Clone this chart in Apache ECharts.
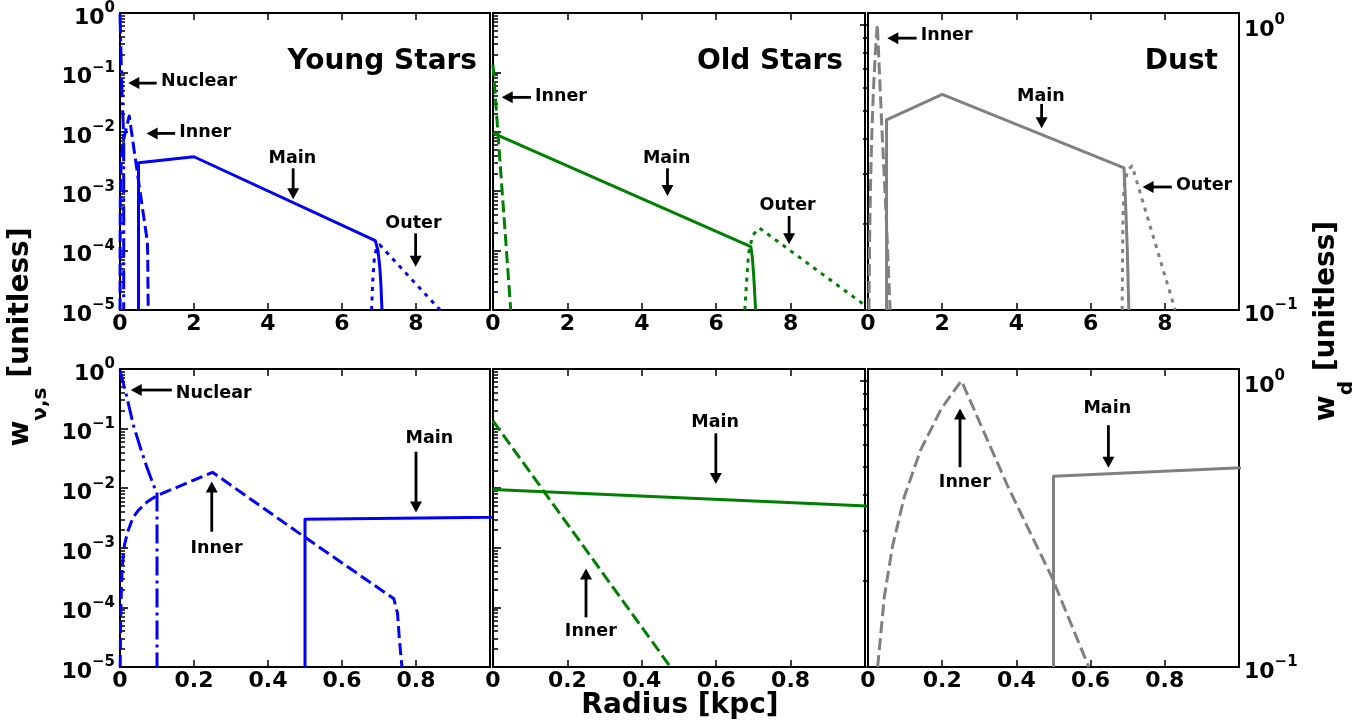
<!DOCTYPE html>
<html><head><meta charset="utf-8">
<script src="https://cdn.jsdelivr.net/npm/echarts@6/dist/echarts.min.js"></script>
<style>html,body{margin:0;padding:0;background:#fff}#c{width:1368px;height:727px}</style>
</head><body><div id="c"></div>
<script>
// ---------------- DATA (radius in kpc, weights unitless) ----------------
// Young stars
const youngNuclearR = [0, 0.0018, 0.018, 0.036, 0.054, 0.072, 0.092, 0.1, 0.1];
const youngNuclearW = [0.95, 0.85, 0.35, 0.115, 0.05, 0.023, 0.0107, 0.0085, 1e-5];
const youngInnerR = [0.0005, 0.002, 0.0045, 0.007, 0.012, 0.02, 0.035, 0.05, 0.075, 0.1, 0.25, 0.5, 0.74, 0.75, 0.755, 0.762];
const youngInnerW = [1e-5, 8e-5, 2.9e-4, 5.5e-4, 1.1e-3, 1.8e-3, 3.2e-3, 4.3e-3, 6e-3, 7.5e-3, 1.85e-2, 1.5e-3, 1.4e-4, 8e-5, 3e-5, 1e-5];
const youngMainR = [0.5, 0.5, 2.0, 6.9, 6.97, 7.02, 7.05, 7.08];
const youngMainW = [1e-5, 3.0e-3, 3.8e-3, 1.47e-4, 1.02e-4, 5.4e-5, 2.8e-5, 1e-5];
const youngOuterR = [6.8, 6.83, 6.87, 6.93, 7.02, 8.65];
const youngOuterW = [1e-5, 3e-5, 7e-5, 1.1e-4, 1.25e-4, 1e-5];
// Old stars
const oldInnerR = [0, 0.477];
const oldInnerW = [0.135, 1e-5];
const oldMainR = [0, 6.93, 6.97, 7.01, 7.06];
const oldMainW = [9.5e-3, 1.17e-4, 7.9e-5, 3.6e-5, 1e-5];
const oldOuterR = [6.77, 6.82, 6.87, 6.98, 7.16, 10];
const oldOuterW = [1e-5, 3.2e-5, 9e-5, 1.8e-4, 2.4e-4, 1.2e-5];
// Dust
const dustInnerR = [0.026, 0.044, 0.066, 0.098, 0.142, 0.196, 0.223, 0.252, 0.376, 0.497, 0.595];
const dustInnerW = [0.1, 0.176, 0.264, 0.394, 0.574, 0.792, 0.89, 1.0, 0.43, 0.204, 0.1];
const dustMainR = [0.5, 0.5, 2.0, 6.9, 6.94, 6.99, 7.03];
const dustMainW = [0.1, 0.464, 0.57, 0.315, 0.243, 0.162, 0.1];
const dustOuterR = [6.85, 6.87, 6.9, 7.0, 7.12, 8.28];
const dustOuterW = [0.1, 0.2, 0.27, 0.31, 0.32, 0.1];

// tick values
const wsMajorTicks = [1e-5, 1e-4, 1e-3, 1e-2, 1e-1, 1];
const wsMinorTicks = [2e-5,3e-5,4e-5,5e-5,6e-5,7e-5,8e-5,9e-5, 2e-4,3e-4,4e-4,5e-4,6e-4,7e-4,8e-4,9e-4,
  2e-3,3e-3,4e-3,5e-3,6e-3,7e-3,8e-3,9e-3, 2e-2,3e-2,4e-2,5e-2,6e-2,7e-2,8e-2,9e-2, 0.2,0.3,0.4,0.5,0.6,0.7,0.8,0.9];
const wdMajorTicks = [0.1, 1];
const wdMinorTicks = [0.2,0.3,0.4,0.5,0.6,0.7,0.8,0.9];
const panelTitles = ['Young Stars', 'Old Stars', 'Dust'];

// annotations: [grid, text, textX, textY, align, tailX, tailY, tipX, tipY] (data coords)
const annotations = [
  [0, 'Nuclear', 1.11, 0.07, 'left', 0.99, 0.066, 0.224, 0.066],
  [0, 'Inner', 1.60, 0.0097, 'left', 1.49, 0.0094, 0.72, 0.0094],
  [0, 'Main', 4.66, 3.58e-3, 'center', 4.68, 2.43e-3, 4.68, 7.3e-4],
  [0, 'Outer', 7.93, 2.88e-4, 'center', 7.99, 1.95e-4, 7.99, 5.37e-5],
  [1, 'Inner', 1.13, 0.039, 'left', 1.02, 0.038, 0.234, 0.038],
  [1, 'Main', 4.67, 3.58e-3, 'center', 4.69, 2.43e-3, 4.69, 8.3e-4],
  [1, 'Outer', 7.92, 5.7e-4, 'center', 7.96, 3.83e-4, 7.96, 1.28e-4],
  [2, 'Inner', 1.42, 0.915, 'left', 1.31, 0.898, 0.52, 0.898],
  [2, 'Main', 4.66, 0.56, 'center', 4.68, 0.528, 4.68, 0.434],
  [2, 'Outer', 8.30, 0.2735, 'left', 8.19, 0.27, 7.40, 0.27],
  [3, 'Nuclear', 0.151, 0.39, 'left', 0.140, 0.444, 0.029, 0.444],
  [3, 'Inner', 0.261, 9.8e-4, 'center', 0.248, 1.86e-3, 0.248, 1.29e-2],
  [3, 'Main', 0.836, 0.0687, 'center', 0.80, 0.041, 0.80, 3.9e-3],
  [4, 'Main', 0.597, 0.126, 'center', 0.599, 0.0834, 0.599, 0.0118],
  [4, 'Inner', 0.263, 3.9e-5, 'center', 0.25, 6.8e-5, 0.25, 4.5e-4],
  [5, 'Inner', 0.261, 0.441, 'center', 0.248, 0.499, 0.248, 0.80],
  [5, 'Main', 0.645, 0.80, 'center', 0.648, 0.70, 0.648, 0.497]
];

// ---------------- STYLE / LAYOUT ----------------
const FONT = '"DejaVu Sans", sans-serif';
const colX = [[120, 490], [493, 865], [868, 1239]];
const rowY = [[13, 310], [369, 667]];
const colColors = ['#0000ff', '#008000', '#808080'];
const dash = { solid: 'solid', dashed: [12, 5], dotted: [4, 5.5], dashdot: [19, 5, 3, 5] };
const components = [
  [[youngNuclearR, youngNuclearW, 'dashdot'], [youngInnerR, youngInnerW, 'dashed'], [youngMainR, youngMainW, 'solid'], [youngOuterR, youngOuterW, 'dotted']],
  [[oldInnerR, oldInnerW, 'dashed'], [oldMainR, oldMainW, 'solid'], [oldOuterR, oldOuterW, 'dotted']],
  [[dustInnerR, dustInnerW, 'dashed'], [dustMainR, dustMainW, 'solid'], [dustOuterR, dustOuterW, 'dotted']]
];

function powLabel(v) {
  const e = Math.round(Math.log10(v));
  return '{b|10}{s|' + (e < 0 ? '\u2212' + (-e) : '' + e) + '}';
}
const powRich = {
  b: { fontFamily: FONT, fontWeight: 'bold', fontSize: 22, lineHeight: 28, verticalAlign: 'bottom', color: '#000' },
  s: { fontFamily: FONT, fontWeight: 'bold', fontSize: 15, lineHeight: 14, verticalAlign: 'top', color: '#000' }
};

// grids 0..5 : main panels (data + bottom x axis + major y ticks)
// grids 6..11: same rectangles, only for top x ticks and minor y ticks
const grids = [], xAxes = [], yAxes = [], series = [];
for (let k = 0; k < 2; k++) {
  for (let r = 0; r < 2; r++) {
    for (let c = 0; c < 3; c++) {
      grids.push({
        left: colX[c][0], top: rowY[r][0],
        width: colX[c][1] - colX[c][0], height: rowY[r][1] - rowY[r][0],
        show: k === 0, borderColor: '#000', borderWidth: 2, backgroundColor: 'transparent'
      });
    }
  }
}
for (let r = 0; r < 2; r++) {
  for (let c = 0; c < 3; c++) {
    const g = r * 3 + c, gB = 6 + g;
    const xmax = r === 0 ? 10 : 1, xint = r === 0 ? 2 : 0.2;
    const xbase = {
      type: 'value', min: 0, max: xmax, interval: xint,
      axisLine: { show: false }, splitLine: { show: false },
      axisTick: { inside: true, length: 7, lineStyle: { color: '#000', width: 1.5 } }
    };
    xAxes.push(Object.assign({}, xbase, {
      gridIndex: g, position: 'bottom',
      axisLabel: { show: true, showMaxLabel: false, color: '#000', fontFamily: FONT, fontWeight: 'bold', fontSize: 22, margin: 3 }
    }));
    xAxes.push(Object.assign({}, xbase, { gridIndex: gB, position: 'top', axisLabel: { show: false } }));

    const isDust = c === 2;
    const ymin = isDust ? 0.1 : 1e-5, ymax = isDust ? 1.1 : 1;
    const major = isDust ? wdMajorTicks : wsMajorTicks;
    const minor = isDust ? wdMinorTicks : wsMinorTicks;
    const pos = isDust ? 'right' : 'left';
    yAxes.push({
      type: 'log', logBase: 10, gridIndex: g, position: pos, min: ymin, max: ymax,
      axisLine: { show: false }, splitLine: { show: false },
      axisTick: { inside: true, length: 8, customValues: major, lineStyle: { color: '#000', width: 1.6 } },
      axisLabel: { show: c !== 1, customValues: major, formatter: powLabel, rich: powRich, margin: 5, padding: [4, 0, 0, 0] }
    });
    yAxes.push({
      type: 'log', logBase: 10, gridIndex: gB, position: pos, min: ymin, max: ymax,
      axisLine: { show: false }, splitLine: { show: false },
      axisTick: { inside: true, length: 5, customValues: minor, lineStyle: { color: '#000', width: 1.5 } },
      axisLabel: { show: false }
    });

    components[c].forEach(function (comp) {
      series.push({
        type: 'line', xAxisIndex: 2 * g, yAxisIndex: 2 * g,
        data: comp[0].map(function (x, i) { return [x, comp[1][i]]; }),
        showSymbol: false, symbol: 'none', clip: true, silent: true,
        lineStyle: { color: colColors[c], width: 3, type: dash[comp[2]], cap: 'butt', join: 'round' },
        z: 3
      });
    });
  }
}

const chart = echarts.init(document.getElementById('c'), null, { renderer: 'canvas' });
chart.setOption({
  backgroundColor: '#fff', animation: false,
  grid: grids, xAxis: xAxes, yAxis: yAxes, series: series
});

// ---------------- ANNOTATIONS / TEXT ----------------
const gfx = [];
annotations.forEach(function (a) {
  const g = a[0];
  const finder = { xAxisIndex: 2 * g, yAxisIndex: 2 * g };
  const tp = chart.convertToPixel(finder, [a[2], a[3]]);
  const p0 = chart.convertToPixel(finder, [a[5], a[6]]);
  const p1 = chart.convertToPixel(finder, [a[7], a[8]]);
  gfx.push({ type: 'text', x: tp[0], y: tp[1], z: 20,
    style: { text: a[1], fill: '#000', font: 'bold 17.5px ' + FONT, align: a[4], verticalAlign: 'middle' } });
  const dx = p1[0] - p0[0], dy = p1[1] - p0[1], L = Math.hypot(dx, dy);
  const ux = dx / L, uy = dy / L, hl = 11, hw = 6;
  const bx = p1[0] - ux * hl, by = p1[1] - uy * hl;
  gfx.push({ type: 'line', z: 20, shape: { x1: p0[0], y1: p0[1], x2: bx + ux, y2: by + uy }, style: { stroke: '#000', lineWidth: 2.8 } });
  gfx.push({ type: 'polygon', z: 20, shape: { points: [[p1[0], p1[1]], [bx - uy * hw, by + ux * hw], [bx + uy * hw, by - ux * hw]] }, style: { fill: '#000' } });
});

// panel titles (right-aligned inside top row panels)
const titleRight = [477, 843, 1218];
panelTitles.forEach(function (t, c) {
  gfx.push({ type: 'text', x: titleRight[c], y: 62, z: 20,
    style: { text: t, fill: '#000', font: 'bold 28px ' + FONT, align: 'right', verticalAlign: 'middle' } });
});

// axis titles
const titleRich = {
  m: { fontFamily: FONT, fontWeight: 'bold', fontSize: 28, lineHeight: 28, verticalAlign: 'top', fill: '#000' },
  s: { fontFamily: FONT, fontWeight: 'bold', fontSize: 20, lineHeight: 44, verticalAlign: 'bottom', fill: '#000' }
};
gfx.push({ type: 'text', x: 29, y: 337, rotation: Math.PI / 2, z: 20,
  style: { text: '{m|w}{s|\u03bd,s}{m| [unitless]}', rich: titleRich, align: 'center', verticalAlign: 'middle' } });
gfx.push({ type: 'text', x: 1335, y: 321, rotation: Math.PI / 2, z: 20,
  style: { text: '{m|w}{s|d}{m| [unitless]}', rich: titleRich, align: 'center', verticalAlign: 'middle' } });
gfx.push({ type: 'text', x: 680, y: 706, z: 20,
  style: { text: 'Radius [kpc]', fill: '#000', font: 'bold 28px ' + FONT, align: 'center', verticalAlign: 'middle' } });

chart.setOption({ graphic: gfx });
</script>
</body></html>
